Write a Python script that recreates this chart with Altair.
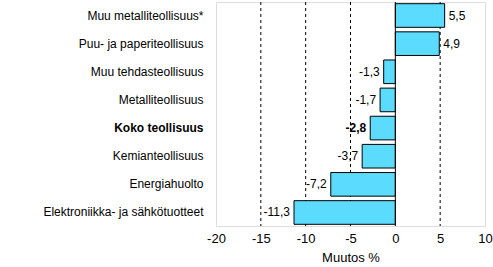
import altair as alt
import pandas as pd

categories = [
    "Muu metalliteollisuus*",
    "Puu- ja paperiteollisuus",
    "Muu tehdasteollisuus",
    "Metalliteollisuus",
    "Koko teollisuus",
    "Kemianteollisuus",
    "Energiahuolto",
    "Elektroniikka- ja sähkötuotteet",
]
values = [5.5, 4.9, -1.3, -1.7, -2.8, -3.7, -7.2, -11.3]
x_ticks = [-20, -15, -10, -5, 0, 5, 10]
grid_values = [-15, -10, -5, 5]

df = pd.DataFrame({
    "cat": categories,
    "v": values,
    "label": [f"{v:.1f}".replace(".", ",") for v in values],
})

FONT = "Liberation Sans"
bold_test = "datum.cat == 'Koko teollisuus'"

y_enc = alt.Y(
    "cat:N", sort=categories, title=None,
    scale=alt.Scale(paddingInner=0.16, paddingOuter=0.06),
    axis=alt.Axis(
        domain=False, ticks=False, labelPadding=13, labelFont=FONT,
        labelFontSize=12, labelColor="black", labelLimit=220,
        labelFontWeight={"condition": {"test": "datum.value == 'Koko teollisuus'", "value": "bold"}, "value": "normal"},
    ),
)
x_scale = alt.Scale(domain=[-20, 10], nice=False, zero=False)

base = alt.Chart(df)

grid = alt.Chart(pd.DataFrame({"g": grid_values})).mark_rule(
    color="black", strokeDash=[3, 3], strokeWidth=1
).encode(x=alt.X("g:Q", scale=x_scale))

bars = base.mark_bar(color="#5BDCFF", stroke="black", strokeWidth=1).encode(
    x=alt.X(
        "v:Q", scale=x_scale, title="Muutos %",
        axis=alt.Axis(
            values=x_ticks, grid=False, domain=False, ticks=False, labelFlush=False,
            labelExpr="toString(datum.value)",
            labelFont=FONT, labelFontSize=13, labelColor="black", labelPadding=6,
            titleFont=FONT, titleFontSize=13, titleFontWeight="normal",
            titleColor="black", titlePadding=6,
        ),
    ),
    x2=alt.datum(0),
    y=y_enc,
)

zero = alt.Chart(pd.DataFrame({"z": [0]})).mark_rule(color="black", strokeWidth=1).encode(
    x=alt.X("z:Q", scale=x_scale)
)

pos_text = base.transform_filter("datum.v >= 0").mark_text(
    align="left", baseline="middle", dx=4, font=FONT, fontSize=12, color="black"
).encode(x=alt.X("v:Q", scale=x_scale), y=alt.Y("cat:N", sort=categories), text="label:N")

neg_text = base.transform_filter(f"datum.v < 0 && !({bold_test})").mark_text(
    align="right", baseline="middle", dx=-4, font=FONT, fontSize=12, color="black"
).encode(x=alt.X("v:Q", scale=x_scale), y=alt.Y("cat:N", sort=categories), text="label:N")

bold_text = base.transform_filter(bold_test).mark_text(
    align="right", baseline="middle", dx=-4, font=FONT, fontSize=12, color="black",
    fontWeight="bold",
).encode(x=alt.X("v:Q", scale=x_scale), y=alt.Y("cat:N", sort=categories), text="label:N")

chart = alt.layer(grid, bars, zero, pos_text, neg_text, bold_text).properties(
    width=269, height=224,
    autosize=alt.AutoSizeParams(type="none"),
    padding={"left": 216, "top": 2, "right": 8, "bottom": 41},
).configure_view(stroke="black", strokeWidth=1).configure(background="white")

chart.save("out.html", embed_options={"renderer": "svg", "actions": False})
